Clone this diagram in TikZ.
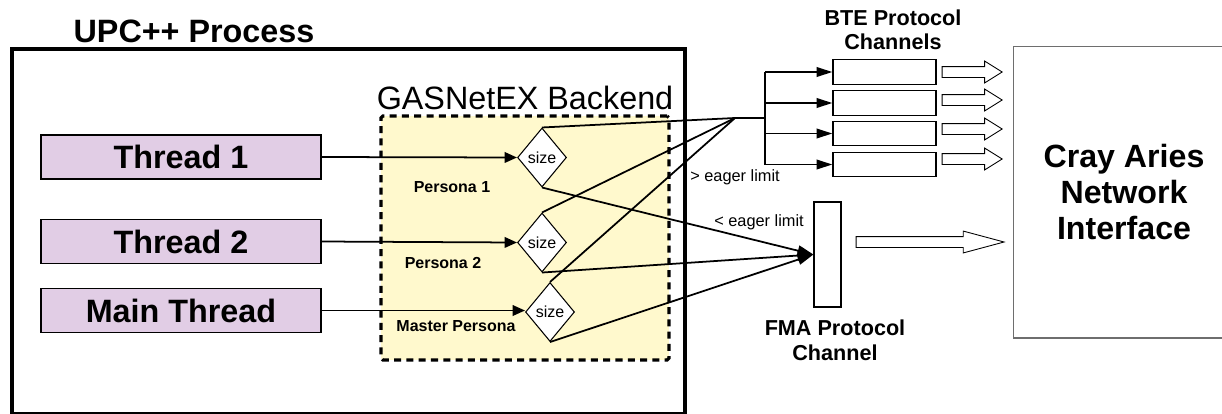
\documentclass[tikz,border=0pt]{standalone}
\usepackage{fontspec}
\setmainfont{Liberation Sans}
\usepackage{tikz}
\usetikzlibrary{shapes.geometric, shapes.arrows, arrows.meta, positioning}
\definecolor{threadfill}{RGB}{225,205,229}
\definecolor{backendfill}{RGB}{255,249,205}
\definecolor{niclines}{RGB}{110,110,110}

\begin{document}
\begin{tikzpicture}[x=0.02cm, y=-0.02cm,
    threadbox/.style={draw, line width=0.8pt, fill=threadfill, minimum width=5.6cm, minimum height=0.88cm, font=\fontsize{18.4}{20}\selectfont\bfseries},
    sizebox/.style={draw, diamond, fill=white, line width=0.6pt, inner sep=1pt, minimum width=0.98cm, minimum height=1.18cm, font=\fontsize{9.1}{10}\selectfont},
    chanbox/.style={draw, rectangle, line width=0.8pt, minimum width=2.06cm, minimum height=0.49cm},
    hollow/.style={draw, single arrow, line width=0.5pt, inner sep=0pt, inner ysep=0.1cm, single arrow head extend=0.11cm, minimum height=1.2cm, single arrow tip angle=64},
    persona/.style={font=\fontsize{9.1}{10}\selectfont\bfseries},
    limit/.style={font=\fontsize{9.3}{10}\selectfont},
    flow/.style={line width=1pt}
]
    \useasboundingbox (0,0) rectangle (1222,413);

    % process frame
    \draw[line width=1.9pt] (12,49) rectangle (685,413.5);
    \node (proclbl) at (194,31) {\fontsize{18.4}{20}\selectfont\bfseries UPC++ Process};

    \node[draw, rectangle, rounded corners=1pt, line width=1.8pt, dash pattern=on 4pt off 3pt, fill=backendfill, minimum width=5.76cm, minimum height=4.88cm] (backend) at (525,238) {};
    \node (backendlbl) at (525,98) {\fontsize{18.4}{20}\selectfont GASNetEX Backend};

    \node[threadbox] (t1) at (181,157) {Thread 1};
    \node[threadbox] (t2) at (181,241.5) {Thread 2};
    \node[threadbox] (tm) at (181,310.5) {Main Thread};

    \node[sizebox] (sz1) at (542,157.5) {size};
    \node[sizebox] (sz2) at (542,242.5) {size};
    \node[sizebox] (sz3) at (550,312) {size};

    \node[persona] (p1) at (452,187) {Persona 1};
    \node[persona] (p2) at (443,263) {Persona 2};
    \node[persona] (pm) at (456,326) {Master Persona};

    \draw[flow, -{Triangle[length=7pt, width=6pt]}] (t1.east) -- (sz1.west);
    \draw[flow, -{Triangle[length=7pt, width=6pt]}] (t2.east) -- (sz2.west);
    \draw[flow, -{Triangle[length=7pt, width=6pt]}] (tm.east) -- (tm.east -| sz3.west);

    % BTE side
    \node[chanbox] (bte1) at (884.5,72) {};
    \node[chanbox] (bte2) at (884.5,103) {};
    \node[chanbox] (bte3) at (884.5,133.5) {};
    \node[chanbox] (bte4) at (884.5,164.5) {};
    \node[align=center, font=\fontsize{12.3}{13.6}\selectfont\bfseries] (btelbl) at (893,30) {BTE Protocol\\Channels};

    \coordinate (bj) at (735,118);
    \coordinate (bus) at (765,118);
    \draw[flow] (sz1.north) -- (bj);
    \draw[flow] (sz2.north) -- (bj);
    \draw[flow] (sz3.north) -- (bj);
    \draw[flow] (bj) -- (bus);
    \draw[flow] (bus |- bte1.west) -- (bus |- bte4.west);
    \draw[flow, -{Triangle[length=9pt, width=5.5pt]}] (bus |- bte1.west) -- (bte1.west);
    \draw[flow, -{Triangle[length=9pt, width=5.5pt]}] (bus |- bte2.west) -- (bte2.west);
    \draw[flow, -{Triangle[length=9pt, width=5.5pt]}] (bus |- bte3.west) -- (bte3.west);
    \draw[flow, -{Triangle[length=9pt, width=5.5pt]}] (bus |- bte4.west) -- (bte4.west);
    \node[limit] (gtlbl) at (735,177) {> eager limit};

    % FMA side
    \node[draw, rectangle, line width=0.7pt, minimum width=0.54cm, minimum height=2.1cm] (fma) at (827.5,254.5) {};
    \node[align=center, font=\fontsize{12.3}{14.2}\selectfont\bfseries] (fmalbl) at (835,340.5) {FMA Protocol\\Channel};
    \draw[flow, -{Triangle[length=9pt, width=6pt]}] (sz1.south) -- (fma.west);
    \draw[flow, -{Triangle[length=9pt, width=6pt]}] (sz2.south) -- (fma.west);
    \draw[flow, -{Triangle[length=9pt, width=6pt]}] (sz3.south) -- (fma.west);
    \node[limit] (ltlbl) at (759,222) {< eager limit};

    % network interface
    \node[draw=niclines, rectangle, line width=0.6pt, minimum width=4.44cm, minimum height=5.84cm, align=center, font=\fontsize{18.3}{20.4}\selectfont\bfseries] (nic) at (1124,192) {Cray Aries\\Network\\Interface};

    \node[hollow, right=0.1cm of bte1] (h1) {};
    \node[hollow, right=0.1cm of bte2, yshift=0.06cm] (h2) {};
    \node[hollow, right=0.1cm of bte3, yshift=0.09cm] (h3) {};
    \node[hollow, right=0.1cm of bte4, yshift=0.11cm] (h4) {};
    \node[hollow, minimum height=2.96cm, single arrow tip angle=30, right=0.28cm of fma, yshift=0.25cm] (hfma) {};
\end{tikzpicture}
\end{document}
